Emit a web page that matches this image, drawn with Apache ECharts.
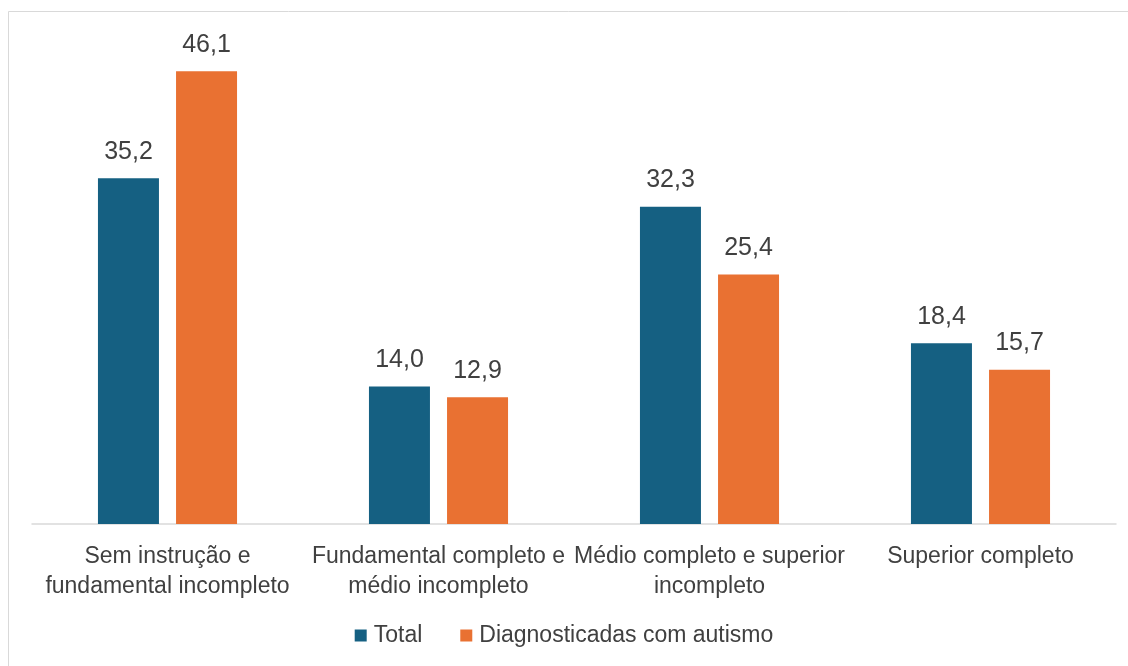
<!DOCTYPE html>
<html>
<head>
<meta charset="utf-8">
<script src="https://cdn.jsdelivr.net/npm/echarts@6/dist/echarts.min.js"></script>
<style>
html,body{margin:0;padding:0;background:#fff;}
#chart{width:1128px;height:666px;}
</style>
</head>
<body>
<div id="chart"></div>
<script>
const categories = [
  "Sem instrução e\nfundamental incompleto",
  "Fundamental completo e\nmédio incompleto",
  "Médio completo e superior\nincompleto",
  "Superior completo"
];
const seriesNames = ["Total", "Diagnosticadas com autismo"];
const totalValues = [35.2, 14.0, 32.3, 18.4];
const autismValues = [46.1, 12.9, 25.4, 15.7];

const FONT = "'Liberation Sans', Arial, sans-serif";
const TXT = "#404040";
const chart = echarts.init(document.getElementById('chart'), null, {renderer: 'canvas'});

function lbl(){
  return {
    show: true, position: 'top', distance: 14,
    color: TXT, fontSize: 25, fontFamily: FONT,
    formatter: p => p.value.toFixed(1).replace('.', ',')
  };
}

chart.setOption({
  animation: false,
  backgroundColor: '#ffffff',
  graphic: [{
    type: 'rect', left: 6, top: 9, silent: true,
    shape: {width: 1140, height: 700},
    style: {fill: 'none', stroke: '#d9d9d9', lineWidth: 1}
  }],
  legend: {
    data: seriesNames,
    bottom: 14, left: 'center',
    icon: 'rect', itemWidth: 12, itemHeight: 12, itemGap: 38,
    textStyle: {color: TXT, fontSize: 23, fontFamily: FONT, padding: [0,0,0,2]}
  },
  grid: {left: 32, right: 12, top: 33, bottom: 142, containLabel: false},
  xAxis: {
    type: 'category', data: categories,
    axisLine: {lineStyle: {color: '#d9d9d9', width: 1.5}},
    axisTick: {show: false},
    axisLabel: {color: TXT, fontSize: 23, fontFamily: FONT, lineHeight: 30, margin: 18, interval: 0}
  },
  yAxis: {
    type: 'value', min: 0, max: 50,
    show: false, splitLine: {show: false}
  },
  series: [
    {name: seriesNames[0], type: 'bar', data: totalValues, barWidth: 61, barGap: '28%',
     itemStyle: {color: '#156082'}, label: lbl()},
    {name: seriesNames[1], type: 'bar', data: autismValues, barWidth: 61,
     itemStyle: {color: '#E97132'}, label: lbl()}
  ]
});
</script>
</body>
</html>
